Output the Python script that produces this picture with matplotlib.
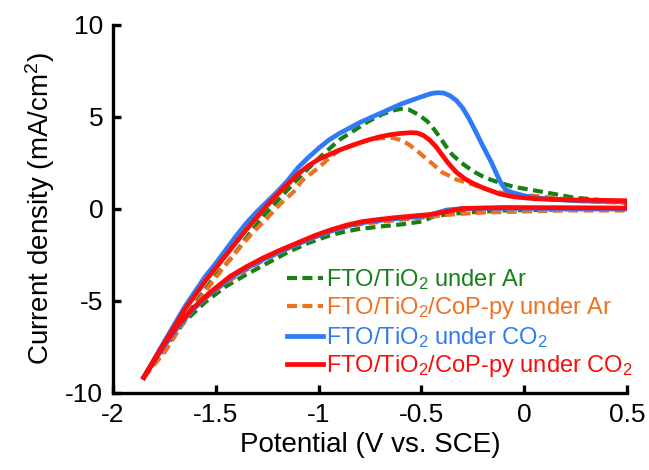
import matplotlib.pyplot as plt

plt.rcParams['font.family'] = ['Liberation Sans', 'DejaVu Sans']
plt.rcParams['mathtext.fontset'] = 'custom'
plt.rcParams['mathtext.rm'] = 'Liberation Sans'
plt.rcParams['mathtext.default'] = 'regular'

# FTO/TiO2 under Ar (green, dashed)
ar_tio2_x = [-1.85, -1.75, -1.65, -1.55, -1.5, -1.43, -1.35, -1.27, -1.2, -1.14, -1.09, -1.05, -1.0,
             -0.95, -0.9, -0.83, -0.76, -0.69, -0.64, -0.6, -0.56, -0.51, -0.47, -0.44, -0.41,
             -0.38, -0.35, -0.31, -0.28, -0.24, -0.2, -0.16, -0.12, -0.05, 0.08, 0.24, 0.5,
             0.5, 0.2, -0.1, -0.28, -0.37, -0.44, -0.48, -0.51, -0.6, -0.7, -0.81, -0.88, -0.95,
             -1.05, -1.15, -1.25, -1.35, -1.45, -1.55, -1.65, -1.75, -1.85]
ar_tio2_y = [-9.15, -7.6, -5.9, -4.35, -3.6, -2.74, -1.55, -0.4, 0.45, 1.17, 1.76, 2.2, 2.75,
             3.25, 3.75, 4.25, 4.75, 5.15, 5.35, 5.44, 5.4, 5.1, 4.75, 4.35, 3.9,
             3.4, 2.95, 2.55, 2.3, 2.0, 1.76, 1.58, 1.43, 1.2, 0.95, 0.62, 0.35,
             0.0, -0.02, -0.08, -0.19, -0.28, -0.4, -0.6, -0.7, -0.84, -0.95, -1.1, -1.25, -1.45,
             -1.85, -2.35, -2.95, -3.55, -4.2, -5.05, -6.1, -7.55, -9.15]

# FTO/TiO2/CoP-py under Ar (orange, dashed)
ar_cop_x = [-1.85, -1.75, -1.65, -1.55, -1.45, -1.38, -1.32, -1.25, -1.19, -1.12, -1.08, -1.0,
            -0.95, -0.9, -0.83, -0.76, -0.7, -0.64, -0.6, -0.56, -0.52, -0.47, -0.43, -0.4,
            -0.36, -0.33, -0.25, -0.15, -0.05, 0.08, 0.29, 0.5,
            0.5, 0.2, -0.2, -0.36, -0.46, -0.52, -0.62, -0.7, -0.78, -0.86, -0.95, -1.05, -1.15,
            -1.27, -1.35, -1.45, -1.55, -1.65, -1.75, -1.85]
ar_cop_y = [-9.15, -7.8, -6.05, -4.45, -3.0, -2.05, -1.28, -0.5, 0.24, 0.95, 1.55, 2.25,
            2.75, 3.2, 3.5, 3.75, 3.85, 3.87, 3.75, 3.5, 3.15, 2.68, 2.3, 2.0,
            1.78, 1.6, 1.33, 0.95, 0.8, 0.68, 0.42, 0.33,
            -0.08, -0.08, -0.19, -0.3, -0.42, -0.5, -0.6, -0.7, -0.8, -0.96, -1.25, -1.68, -2.15,
            -2.8, -3.3, -4.0, -4.85, -5.85, -7.3, -9.15]

# FTO/TiO2 under CO2 (blue)
co2_tio2_x = [-1.85, -1.75, -1.65, -1.55, -1.5, -1.45, -1.4, -1.35, -1.3, -1.25, -1.2, -1.15, -1.1,
              -1.05, -1.0, -0.95, -0.9, -0.85, -0.8, -0.75, -0.7, -0.65, -0.6, -0.55, -0.5, -0.45,
              -0.42, -0.39, -0.36, -0.33, -0.3, -0.27, -0.24, -0.2, -0.16, -0.13, -0.11, -0.09,
              -0.06, 0.0, 0.1, 0.25, 0.5,
              0.5, 0.25, 0.0, -0.2, -0.3, -0.375, -0.42, -0.46, -0.54, -0.62, -0.7, -0.784, -0.862,
              -0.945, -1.02, -1.105, -1.19, -1.27, -1.35, -1.43, -1.53, -1.61, -1.69, -1.77, -1.85]
co2_tio2_y = [-9.15, -7.2, -5.3, -3.65, -2.95, -2.2, -1.45, -0.75, -0.15, 0.4, 0.95, 1.55, 2.25,
              2.8, 3.3, 3.75, 4.1, 4.4, 4.7, 4.95, 5.2, 5.45, 5.7, 5.9, 6.1, 6.28,
              6.32, 6.3, 6.15, 5.9, 5.5, 4.95, 4.3, 3.4, 2.55, 1.8, 1.35, 1.05,
              0.9, 0.72, 0.55, 0.45, 0.38,
              0.0, 0.02, 0.04, 0.04, 0.02, -0.05, -0.2, -0.34, -0.44, -0.52, -0.62, -0.74, -0.93,
              -1.22, -1.52, -1.92, -2.33, -2.75, -3.22, -3.75, -4.62, -5.45, -6.5, -7.75, -9.15]

# FTO/TiO2/CoP-py under CO2 (red)
co2_cop_x = [-1.85, -1.75, -1.65, -1.55, -1.5, -1.45, -1.4, -1.35, -1.3, -1.25, -1.2, -1.15, -1.1,
             -1.05, -1.0, -0.95, -0.9, -0.85, -0.8, -0.75, -0.7, -0.65, -0.6, -0.55, -0.52, -0.49,
             -0.46, -0.43, -0.4, -0.37, -0.33, -0.29, -0.25, -0.2, -0.12, -0.05, 0.05, 0.2, 0.5,
             0.5, 0.2, -0.1, -0.3, -0.375, -0.46, -0.54, -0.62, -0.7, -0.784, -0.862, -0.945, -1.02,
             -1.105, -1.19, -1.27, -1.35, -1.43, -1.53, -1.61, -1.69, -1.77, -1.85]
co2_cop_y = [-9.15, -7.3, -5.45, -3.9, -3.2, -2.5, -1.8, -1.1, -0.45, 0.2, 0.8, 1.35, 1.9,
             2.35, 2.7, 2.95, 3.2, 3.4, 3.6, 3.78, 3.93, 4.04, 4.11, 4.15, 4.13, 4.0,
             3.75, 3.4, 2.95, 2.5, 2.0, 1.65, 1.4, 1.15, 0.82, 0.66, 0.56, 0.5, 0.45,
             0.05, 0.07, 0.08, 0.03, -0.14, -0.3, -0.38, -0.46, -0.56, -0.68, -0.87, -1.15, -1.45,
             -1.85, -2.25, -2.66, -3.13, -3.66, -4.55, -5.38, -6.4, -7.65, -9.15]

labels = ['FTO/TiO$_2$ under Ar', 'FTO/TiO$_2$/CoP-py under Ar',
          'FTO/TiO$_2$ under CO$_2$', 'FTO/TiO$_2$/CoP-py under CO$_2$']
colors = ['#168016', '#f07020', '#2f7bf6', '#ff0a0a']

fig = plt.figure(figsize=(6.49, 4.70), dpi=100)
ax = fig.add_axes([113/649, 77/470, 514/649, 368/470])

dash = (0, (2.4, 1.3))
ax.plot(ar_tio2_x, ar_tio2_y, color=colors[0], lw=3.0, ls=dash, label=labels[0])
ax.plot(ar_cop_x, ar_cop_y, color=colors[1], lw=3.0, ls=dash, label=labels[1])
ax.plot(co2_tio2_x, co2_tio2_y, color=colors[2], lw=3.4, label=labels[2])
ax.plot(co2_cop_x, co2_cop_y, color=colors[3], lw=3.4, label=labels[3])

ax.set_xlim(-2, 0.5)
ax.set_ylim(-10, 10)
ax.set_xticks([-2, -1.5, -1, -0.5, 0, 0.5])
ax.set_xticklabels(['-2', '-1.5', '-1', '-0.5', '0', '0.5'])
ax.set_yticks([-10, -5, 0, 5, 10])
ax.set_yticklabels(['-10', '-5', '0', '5', '10'])
ax.spines['top'].set_visible(False)
ax.spines['right'].set_visible(False)
ax.spines['left'].set_linewidth(2.4)
ax.spines['bottom'].set_linewidth(2.4)
ax.tick_params(direction='in', length=6, width=2.4, labelsize=19, pad=7)
ax.set_xlabel('Potential (V vs. SCE)', fontsize=20, labelpad=4)
ax.set_ylabel('Current density (mA/cm$^2$)', fontsize=20, labelpad=6)

ax.legend(loc='upper left', bbox_to_anchor=(0.315, 0.375), frameon=False, fontsize=17,
          handlelength=1.55, handletextpad=0.12, labelspacing=0.15, borderpad=0,
          labelcolor='linecolor')

plt.savefig('out.png', dpi=100)
